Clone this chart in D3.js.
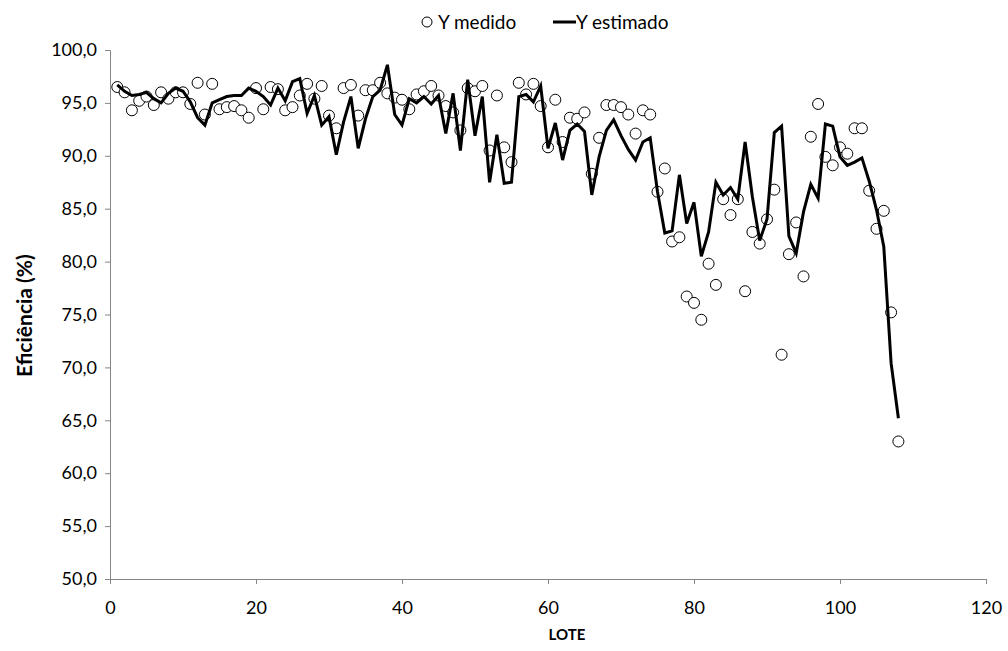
<!DOCTYPE html>
<html>
<head>
<meta charset="utf-8">
<script src="https://cdn.jsdelivr.net/npm/d3@7"></script>
<style>
  body { margin: 0; background: #fff; }
  svg { display: block; font-family: Lato, "Open Sans", sans-serif; }
</style>
</head>
<body>
<svg id="chart" width="1008" height="651"></svg>
<script>
// valores (lote 1..108)
const medido = [
  96.5, 96.0, 94.3, 95.2, 95.6, 94.8, 96.0, 95.4, 96.0, 96.0,
  94.9, 96.9, 93.9, 96.8, 94.4, 94.6, 94.7, 94.3, 93.6, 96.4,
  94.4, 96.5, 96.3, 94.3, 94.6, 95.7, 96.8, 95.4, 96.6, 93.8,
  92.6, 96.4, 96.7, 93.8, 96.2, 96.2, 96.9, 95.9, 95.5, 95.3,
  94.4, 95.8, 96.1, 96.6, 95.7, 94.7, 94.1, 92.4, 96.4, 96.1,
  96.6, 90.5, 95.7, 90.8, 89.4, 96.9, 95.8, 96.8, 94.7, 90.8,
  95.3, 91.3, 93.6, 93.5, 94.1, 88.3, 91.7, 94.8, 94.8, 94.6,
  93.9, 92.1, 94.3, 93.9, 86.6, 88.8, 81.9, 82.3, 76.7, 76.1,
  74.5, 79.8, 77.8, 85.9, 84.4, 85.9, 77.2, 82.8, 81.7, 84.0,
  86.8, 71.2, 80.7, 83.7, 78.6, 91.8, 94.9, 89.9, 89.1, 90.8,
  90.2, 92.6, 92.6, 86.7, 83.1, 84.8, 75.2, 63.0
];
const estimado = [
  96.7, 96.1, 95.7, 95.8, 96.0, 95.4, 95.0, 95.9, 96.4, 96.1,
  95.1, 93.6, 92.9, 95.0, 95.3, 95.6, 95.7, 95.7, 96.4, 96.1,
  95.6, 94.8, 96.4, 95.2, 97.0, 97.3, 94.0, 95.7, 92.9, 93.7,
  90.1, 93.2, 95.6, 90.7, 93.5, 95.6, 96.2, 98.6, 93.9, 92.9,
  95.4, 95.0, 95.6, 94.9, 95.7, 92.1, 95.9, 90.5, 97.2, 91.9,
  95.6, 87.5, 92.0, 87.4, 87.5, 95.6, 95.8, 95.1, 96.6, 90.7,
  93.1, 89.6, 92.4, 93.0, 92.3, 86.3, 89.9, 92.4, 93.4, 91.9,
  90.6, 89.6, 91.3, 91.7, 86.6, 82.7, 82.9, 88.2, 83.6, 85.6,
  80.5, 82.8, 87.5, 86.3, 87.0, 85.9, 91.3, 86.1, 82.0, 84.0,
  92.2, 92.8, 82.4, 80.8, 84.7, 87.3, 86.0, 93.0, 92.8, 89.9,
  89.1, 89.4, 89.8, 87.6, 84.9, 81.4, 70.4, 65.2
];
const lotes = medido.map((_, i) => i + 1);
const xTicks = [0, 20, 40, 60, 80, 100, 120];
const yTicks = [50, 55, 60, 65, 70, 75, 80, 85, 90, 95, 100];

const svg = d3.select("#chart");
const axisColor = "#868686";

const x = d3.scaleLinear().domain([0, 120]).range([110, 986]);
const y = d3.scaleLinear().domain([50, 100]).range([579, 50]);

const fmt = (d) => d3.format(".1f")(d).replace(".", ",");

// eixo y
const yAxis = svg
  .append("g")
  .attr("transform", `translate(${x(0)},0)`)
  .call(d3.axisLeft(y).tickValues(yTicks).tickSize(5).tickFormat(fmt));
yAxis.select(".domain").attr("stroke", axisColor);
yAxis.selectAll(".tick line").attr("stroke", axisColor);
yAxis
  .selectAll(".tick text")
  .attr("fill", "#000")
  .attr("font-size", 18)
  .attr("x", -13)
  .attr("font-family", "Lato, sans-serif");

// eixo x
const xAxis = svg
  .append("g")
  .attr("transform", `translate(0,${y(50)})`)
  .call(d3.axisBottom(x).tickValues(xTicks).tickSize(5).tickFormat(d3.format("d")));
xAxis.select(".domain").attr("stroke", axisColor);
xAxis.selectAll(".tick line").attr("stroke", axisColor);
xAxis
  .selectAll(".tick text")
  .attr("fill", "#000")
  .attr("font-size", 18)
  .attr("y", 22)
  .attr("font-family", "Lato, sans-serif");

// titulos
svg
  .append("text")
  .attr("x", 567)
  .attr("y", 640)
  .attr("text-anchor", "middle")
  .attr("font-weight", "bold")
  .attr("font-size", 15)
  .text("LOTE");

svg
  .append("text")
  .attr("transform", `translate(32,${y(74.9)}) rotate(-90)`)
  .attr("text-anchor", "middle")
  .attr("font-weight", "bold")
  .attr("font-size", 21)
  .text("Eficiência (%)");

// Y medido
svg
  .append("g")
  .selectAll("circle")
  .data(lotes)
  .join("circle")
  .attr("cx", (d) => x(d))
  .attr("cy", (d, i) => y(medido[i]))
  .attr("r", 5.5)
  .attr("fill", "#fff")
  .attr("stroke", "#000")
  .attr("stroke-width", 1);

// Y estimado
const line = d3
  .line()
  .x((d) => x(d))
  .y((d, i) => y(estimado[i]));

svg
  .append("path")
  .datum(lotes)
  .attr("d", line)
  .attr("fill", "none")
  .attr("stroke", "#000")
  .attr("stroke-width", 3)
  .attr("stroke-linejoin", "miter");

// legenda
const leg = svg.append("g").attr("font-size", 19);
leg
  .append("circle")
  .attr("cx", 427)
  .attr("cy", 22)
  .attr("r", 5)
  .attr("fill", "#fff")
  .attr("stroke", "#000");
leg.append("text").attr("x", 438).attr("y", 29).text("Y medido");
leg
  .append("line")
  .attr("x1", 553)
  .attr("x2", 576)
  .attr("y1", 22)
  .attr("y2", 22)
  .attr("stroke", "#000")
  .attr("stroke-width", 3);
leg.append("text").attr("x", 576).attr("y", 29).text("Y estimado");
</script>
</body>
</html>
